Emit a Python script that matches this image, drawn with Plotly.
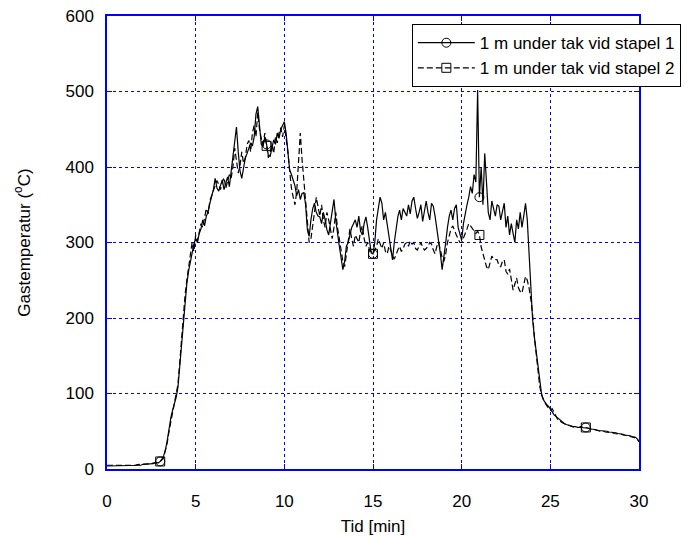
import numpy as np
import plotly.graph_objects as go

# Sampling grid: one reading every 0.1 min from 0 to 30 min
TIME_STEP = 0.1
N_SAMPLES = 301

# Gas temperature 1 m below the ceiling at stack 1 (deg C), one row per minute
temp_stack1 = [
    4, 4, 4, 4, 4, 4, 4, 4, 4, 4,
    4, 4, 4, 4, 5, 5, 5, 5, 5, 5,
    6, 6, 6, 6, 7, 7, 7, 8, 8, 8,
    10, 13, 18, 26, 38, 55, 68, 78, 87, 95,
    108, 135, 165, 200, 225, 245, 262, 276, 290, 298,
    305, 300, 312, 318, 330, 322, 335, 340, 352, 360,
    370, 385, 372, 368, 375, 383, 370, 378, 387, 374,
    395, 410, 435, 453, 420, 395, 385, 400, 412, 418,
    425, 432, 428, 440, 470, 480, 455, 430, 427, 440,
    430, 415, 414, 425, 436, 430, 445, 438, 450, 455,
    460, 445, 415, 396, 390, 383, 375, 362, 370, 357,
    365, 366, 350, 317, 308, 330, 345, 352, 340, 335,
    334, 325, 340, 330, 317, 310, 325, 345, 357, 330,
    308, 295, 280, 264, 275, 295, 300, 310, 320, 325,
    330, 320, 335, 315, 310, 325, 334, 320, 300, 286,
    285, 300, 330, 345, 360, 352, 330, 340, 325, 310,
    290, 277, 300, 320, 334, 343, 330, 345, 340, 335,
    350, 338, 355, 360, 345, 332, 340, 350, 328, 345,
    355, 340, 330, 352, 348, 335, 320, 300, 285, 264,
    280, 300, 320, 335, 343, 330, 345, 350, 320, 310,
    303, 325, 340, 350, 360, 374, 365, 390, 380, 502,
    360, 400, 350, 418, 380, 340, 330, 355, 345, 335,
    350, 348, 330, 340, 352, 320, 335, 310, 325, 312,
    300, 330, 318, 340, 320, 335, 352, 330, 290, 240,
    198, 175, 155, 140, 120, 100, 92, 88, 85, 83,
    80, 76, 72, 70, 67, 65, 64, 62, 60, 59,
    58, 57, 57, 56, 56, 55, 55, 55, 55, 55,
    55, 54, 54, 53, 53, 52, 52, 51, 51, 51,
    50, 50, 50, 49, 49, 48, 48, 48, 47, 47,
    46, 46, 45, 45, 44, 44, 43, 43, 42, 40,
    36,
]

# Gas temperature 1 m below the ceiling at stack 2 (deg C), one row per minute
temp_stack2 = [
    5, 5, 4, 4, 4, 4, 4, 4, 4, 4,
    4, 4, 4, 5, 5, 5, 5, 6, 6, 6,
    6, 6, 7, 7, 7, 7, 8, 8, 8, 9,
    10, 12, 16, 24, 35, 50, 62, 75, 86, 98,
    112, 140, 172, 205, 230, 250, 268, 282, 300, 288,
    310, 302, 315, 325, 320, 335, 345, 338, 355, 362,
    368, 375, 382, 377, 370, 380, 386, 372, 380, 390,
    385, 400, 425, 410, 392, 402, 420, 405, 412, 430,
    435, 420, 445, 455, 440, 472, 450, 438, 430, 445,
    428, 412, 420, 430, 418, 440, 432, 445, 452, 440,
    455, 438, 420, 395, 372, 360, 350, 368, 400, 445,
    410, 380, 350, 325, 300, 305, 320, 340, 360, 345,
    335, 350, 330, 320, 340, 330, 315, 305, 320, 340,
    320, 305, 290, 275, 268, 285, 300, 318, 305, 295,
    310, 305, 300, 315, 322, 305, 295, 300, 290, 288,
    285, 290, 295, 305, 298, 292, 300, 288, 285, 295,
    290, 282, 278, 285, 290, 295, 288, 292, 298, 300,
    295, 302, 298, 300, 292, 290, 296, 300, 294, 290,
    292, 295, 300, 298, 290, 285, 295, 300, 290, 280,
    275, 285, 300, 310, 318, 322, 315, 310, 305, 300,
    300, 305, 312, 318, 325, 322, 318, 315, 312, 315,
    310, 294, 285, 275, 268, 264, 272, 282, 278, 277,
    277, 270, 268, 275, 277, 262, 258, 265, 250, 237,
    245, 253, 240, 235, 233, 245, 255, 250, 240, 225,
    205, 175, 150, 130, 110, 98, 92, 88, 84, 80,
    78, 80, 76, 70, 66, 64, 62, 61, 60, 59,
    58, 57, 56, 56, 55, 55, 55, 56, 55, 55,
    55, 54, 54, 53, 52, 52, 51, 51, 50, 50,
    50, 49, 49, 49, 48, 48, 47, 47, 46, 46,
    46, 45, 45, 44, 44, 43, 43, 42, 41, 40,
    36,
]

# Times (min) where the series symbols are placed
marker_times = [3, 9, 15, 21, 27]

series_names = ["1 m under tak vid stapel 1", "1 m under tak vid stapel 2"]
x_ticks = [0, 5, 10, 15, 20, 25, 30]
y_ticks = [0, 100, 200, 300, 400, 500, 600]

time = np.round(np.arange(N_SAMPLES) * TIME_STEP, 1)
marker_idx = [int(round(t / TIME_STEP)) for t in marker_times]

FONT = "Liberation Sans, Arial, sans-serif"
BLUE = "#0000ff"

styles = [
    dict(line=dict(color="black", width=1.2), symbol="circle-open"),
    dict(line=dict(color="black", width=1.2, dash="6px,3px"), symbol="square-open"),
]

fig = go.Figure()

for values, name, st in zip([temp_stack1, temp_stack2], series_names, styles):
    vals = np.asarray(values, dtype=float)
    # continuous record
    fig.add_trace(go.Scatter(
        x=time, y=vals, mode="lines", line=st["line"],
        showlegend=False, hoverinfo="skip",
    ))
    # symbols at selected times
    fig.add_trace(go.Scatter(
        x=time[marker_idx], y=vals[marker_idx], mode="markers",
        marker=dict(symbol=st["symbol"], size=9, color="black",
                    line=dict(width=1, color="black")),
        showlegend=False,
    ))

# legend entries
for name, st in zip(series_names, styles):
    fig.add_trace(go.Scatter(
        x=[None], y=[None], mode="lines+markers", name=name,
        line=st["line"],
        marker=dict(symbol=st["symbol"], size=9, color="black",
                    line=dict(width=1, color="black")),
    ))

axis_common = dict(
    showgrid=True, gridcolor=BLUE, gridwidth=1, griddash="3px,3px",
    showline=True, linecolor=BLUE, linewidth=1.5, mirror="ticks",
    ticks="inside", ticklen=5, tickcolor=BLUE, tickwidth=1,
    zeroline=False, automargin=False,
    tickfont=dict(family=FONT, size=17, color="black"),
)

fig.update_layout(
    width=693, height=536,
    margin=dict(l=107, r=54, t=16, b=67),
    paper_bgcolor="white", plot_bgcolor="white",
    font=dict(family=FONT, size=17, color="black"),
    xaxis=dict(
        range=[0, 30], tickvals=x_ticks, ticktext=[str(v) for v in x_ticks],
        title=dict(text="Tid [min]", font=dict(family=FONT, size=17), standoff=15),
        ticklabelstandoff=16,
        **axis_common,
    ),
    yaxis=dict(
        range=[0, 600], tickvals=y_ticks, ticktext=[str(v) for v in y_ticks],
        title=dict(text="Gastemperatur (<sup>o</sup>C)",
                   font=dict(family=FONT, size=17), standoff=31),
        ticklabelstandoff=8,
        **axis_common,
    ),
    legend=dict(
        x=0.573, y=0.982, xanchor="left", yanchor="top",
        bgcolor="white", bordercolor="black", borderwidth=1,
        font=dict(family=FONT, size=17, color="black"),
        tracegroupgap=0, itemwidth=57,
    ),
    showlegend=True,
)

fig.write_html("out.html")
